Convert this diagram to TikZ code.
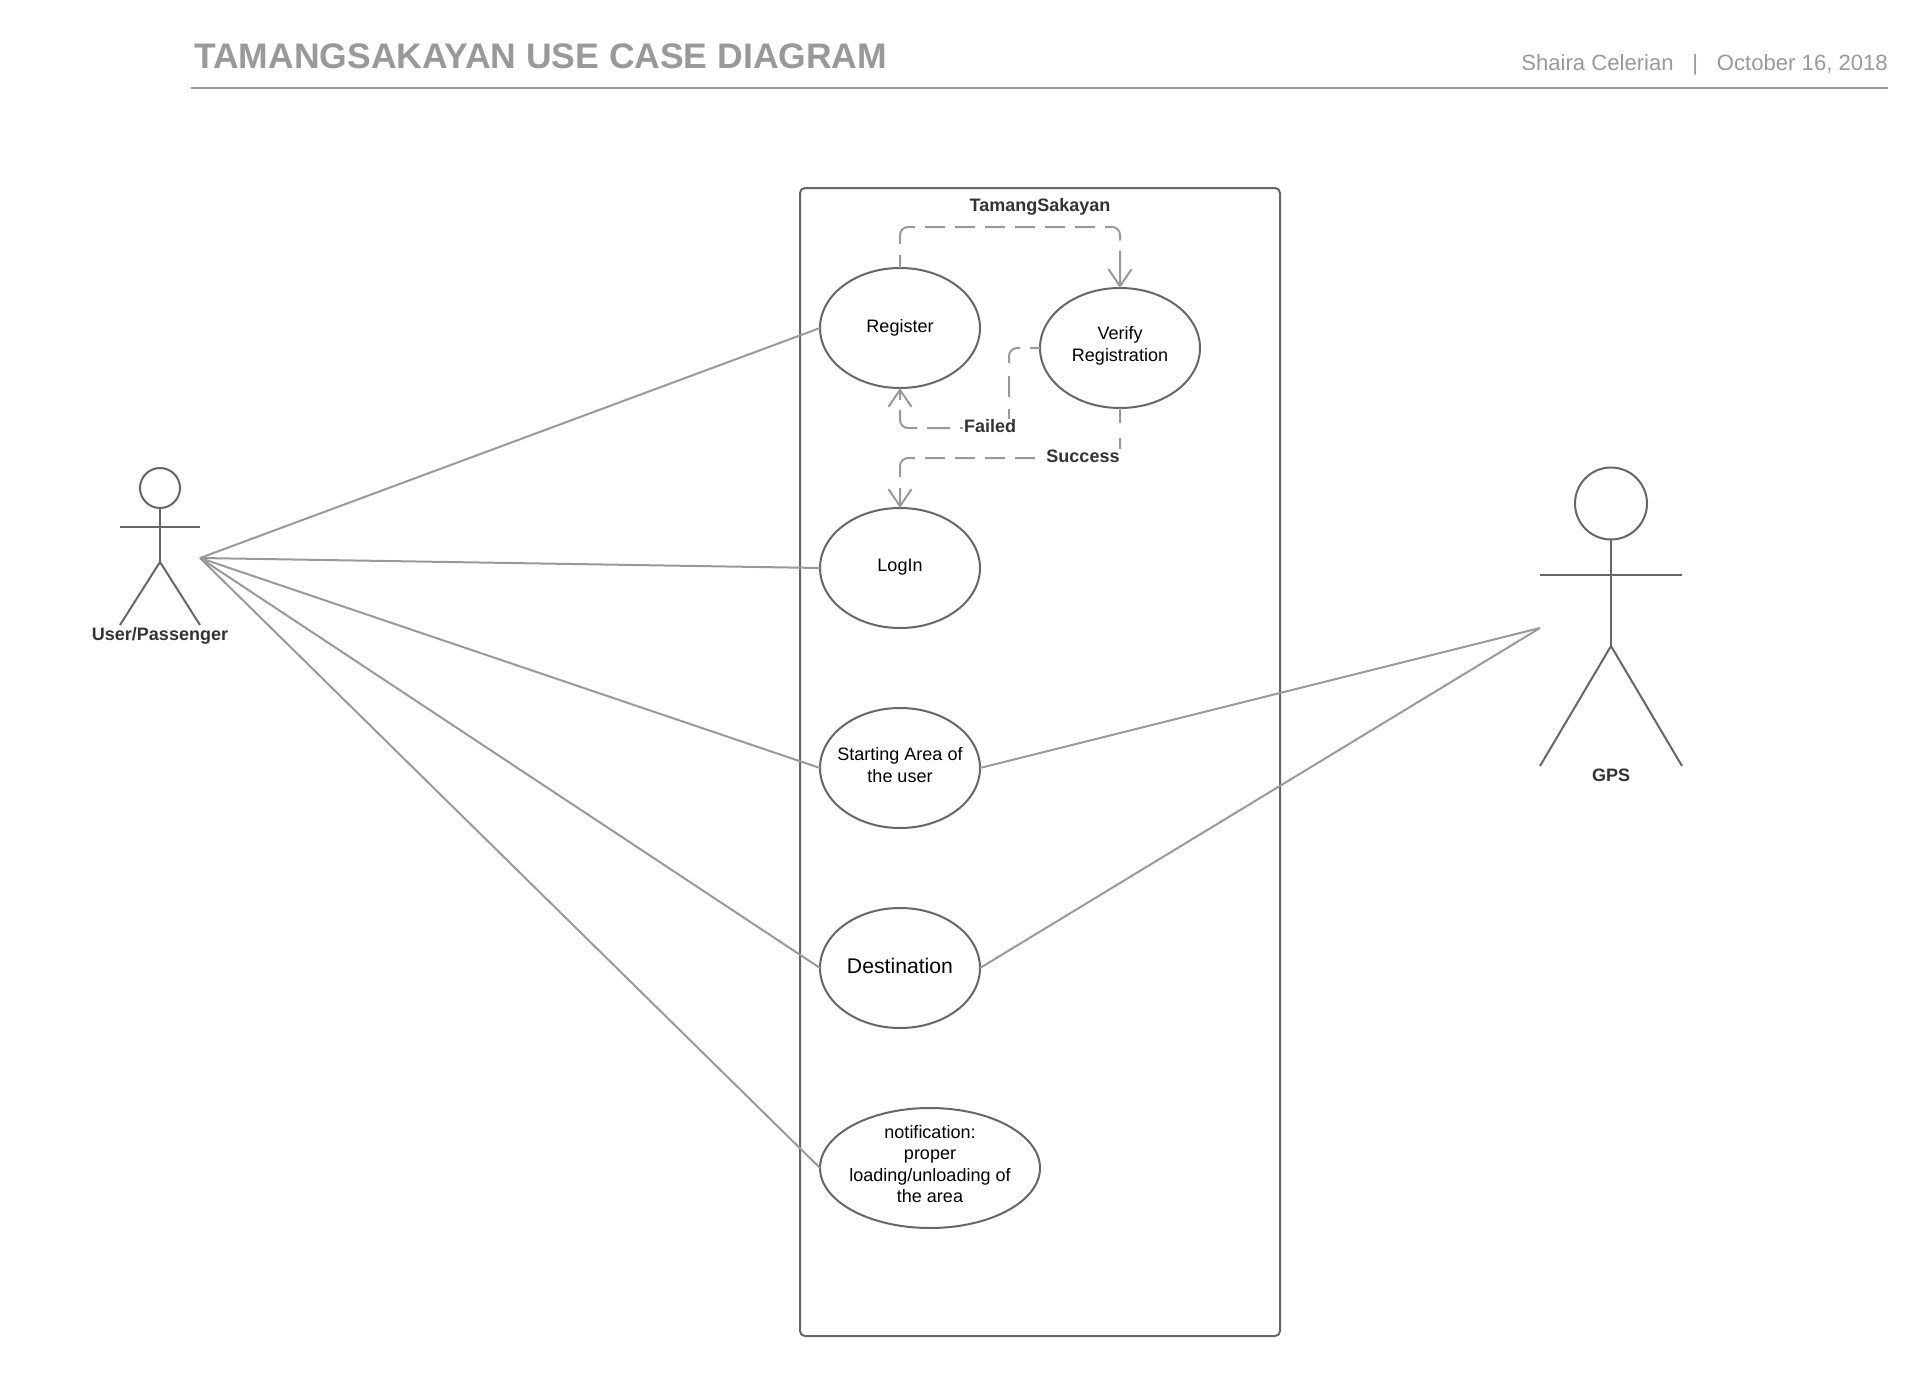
\documentclass[tikz,border=0pt]{standalone}
\usepackage{fontspec}
\setmainfont{Liberation Sans}
\usetikzlibrary{shapes.geometric,arrows.meta}
\definecolor{edgegray}{HTML}{666666}
\definecolor{linkgray}{HTML}{999999}
\definecolor{labelgray}{HTML}{333333}
\newcommand{\casetext}[2]{\makebox[0pt]{\raisebox{#1}[0pt][0pt]{\begin{tabular}{@{}c@{}}#2\end{tabular}}}}
\tikzset{
  usecase/.style={draw=edgegray,ellipse,line width=2pt,inner sep=0pt,outer sep=0pt,minimum width=160pt,minimum height=120pt,font=\fontsize{18}{21.5}\selectfont,text=black},
  assoc/.style={draw=linkgray,line width=2pt},
  flowline/.style={draw=linkgray,line width=2pt,rounded corners=8pt},
  flowhead/.style={-{Straight Barb[length=17pt,width=23pt,line width=2pt]}},
  actorline/.style={draw=edgegray,line width=2pt},
  tagtext/.style={font=\bfseries\fontsize{18}{21.5}\selectfont,text=labelgray,inner sep=1pt},
  flowtag/.style={tagtext,fill=white}
}
\begin{document}
\begin{tikzpicture}[x=1pt,y=-1pt]
\useasboundingbox (0,0) rectangle (1928,1376);
% header
\node[anchor=base west,inner sep=0pt,font=\bfseries\fontsize{35.5}{40}\selectfont,text=linkgray] (title) at (194,68) {TAMANGSAKAYAN USE CASE DIAGRAM};
\node[anchor=base east,inner sep=0pt,font=\fontsize{22.1}{26}\selectfont,text=linkgray] (meta) at (1888,70.5) {Shaira Celerian\hspace{0.85em}|\hspace{0.85em}October 16, 2018};
\coordinate (ruleL) at (191,88);
\coordinate (ruleR) at (1888,88);
\draw[assoc] (ruleL) -- (ruleR);
% system boundary
\node[draw=edgegray,line width=2pt,rounded corners=5pt,minimum width=480pt,minimum height=1148pt,inner sep=0pt,outer sep=0pt] (system) at (1040,762) {};
\node[tagtext] (systemname) at (1040,206.5) {TamangSakayan};
% use cases
\node[usecase] (register) at (900,328) {\casetext{-4.4pt}{Register}};
\node[usecase] (verify) at (1120,348) {\casetext{-2.7pt}{Verify\\Registration}};
\node[usecase] (login) at (900,568) {\casetext{-3.8pt}{LogIn}};
\node[usecase] (start) at (900,768) {\casetext{-3.3pt}{Starting Area of\\the user}};
\node[usecase,font=\fontsize{21.2}{26}\selectfont] (dest) at (900,968) {\casetext{-5.2pt}{Destination}};
\node[usecase,minimum width=220pt] (notif) at (930,1168) {\casetext{-2.7pt}{notification:\\proper\\loading/unloading of\\the area}};
% user actor
\node[draw=edgegray,line width=2pt,circle,minimum size=40pt,inner sep=0pt,outer sep=0pt] (userhead) at (160,488) {};
\coordinate (userhip) at (160,562);
\coordinate (userarmL) at (120,527);
\coordinate (userarmR) at (200,527);
\coordinate (userfootL) at (120,625);
\coordinate (userfootR) at (200,625);
\coordinate (userport) at (200,558);
\draw[actorline] (userhead.south) -- (userhip);
\draw[actorline] (userarmL) -- (userarmR);
\draw[actorline] (userfootL) -- (userhip) -- (userfootR);
\node[tagtext] (userlabel) at (160,636) {User/Passenger};
% gps actor
\node[draw=edgegray,line width=2pt,circle,minimum size=72pt,inner sep=0pt,outer sep=0pt] (gpshead) at (1611,503.5) {};
\coordinate (gpsarmL) at (1540,574.5);
\coordinate (gpsarmR) at (1682,574.5);
\coordinate (gpship) at (1611,646);
\coordinate (gpsfootL) at (1540,766);
\coordinate (gpsfootR) at (1682,766);
\coordinate (gpsport) at (1540,628);
\draw[actorline] (gpshead.south) -- (gpship);
\draw[actorline] (gpsarmL) -- (gpsarmR);
\draw[actorline] (gpsfootL) -- (gpship) -- (gpsfootR);
\node[tagtext] (gpslabel) at (1611,775) {GPS};
% associations
\draw[assoc] (userport) -- (register.west);
\draw[assoc] (userport) -- (login.west);
\draw[assoc] (userport) -- (start.west);
\draw[assoc] (userport) -- (dest.west);
\draw[assoc] (userport) -- (notif.west);
\draw[assoc] (gpsport) -- (start.east);
\draw[assoc] (gpsport) -- (dest.east);
% flow labels
\coordinate (failTop) at (1009,420);
\coordinate (failLeft) at (966,428);
\coordinate (succLeft) at (1045,458);
% flows
\draw[flowline,flowhead,dash pattern=on 13pt off 11pt on 28.6pt off 10pt on 20pt off 10pt on 20pt off 10pt on 20pt off 10pt on 20pt off 10pt on 20pt off 10pt on 20pt off 10pt on 25pt off 10pt on 60pt off 0pt]
  (register.north) -- ++(0,-41) -| (verify.north);
\draw[flowline,dash pattern=on 10pt off 10pt on 22.6pt off 13pt on 21pt off 12pt on 30pt off 0pt]
  (verify.west) -- ++(-31,0) |- (failTop);
\draw[flowline,flowhead,dash pattern=on 6pt off 10pt on 23pt off 10pt on 31.6pt off 10pt on 40pt off 0pt]
  (failLeft) -| (register.south);
\draw[flowline,dash pattern=on 15pt off 15pt on 30pt off 0pt]
  (verify.south) |- (succLeft);
\draw[flowline,flowhead,dash pattern=on 0pt off 10pt on 20pt off 10pt on 20pt off 10pt on 20pt off 10pt on 20pt off 10pt on 30.6pt off 11pt on 60pt off 0pt]
  (succLeft) -| (login.north);
\node[flowtag] (failed) at (990,426.5) {Failed};
\node[flowtag] (success) at (1083,456) {Success};
\end{tikzpicture}
\end{document}
